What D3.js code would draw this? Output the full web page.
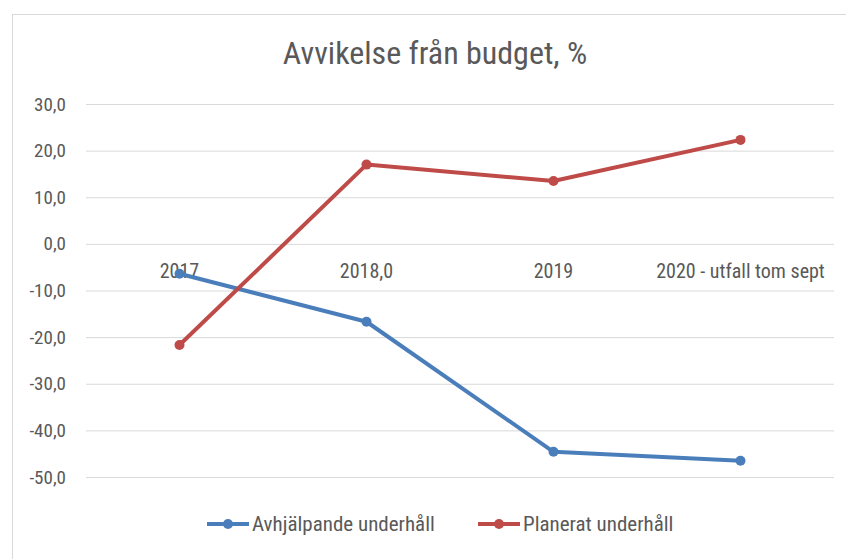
<!DOCTYPE html>
<html><head><meta charset="utf-8">
<script src="https://cdn.jsdelivr.net/npm/d3@7"></script>
<style>body{margin:0;background:#fff}svg{display:block}text{font-family:"Liberation Sans Narrow","Roboto Condensed","Open Sans",sans-serif;fill:#595959}</style>
</head><body><svg id="c" width="846" height="559"></svg>
<script>
const categories = ["2017", "2018,0", "2019", "2020 - utfall tom sept"];
const seriesNames = ["Avhjälpande underhåll", "Planerat underhåll"];
const avhjalpande = [-6.4, -16.7, -44.6, -46.5];
const planerat = [-21.7, 17.0, 13.5, 22.3];
const yTicks = [30, 20, 10, 0, -10, -20, -30, -40, -50];
const colors = ["#4a7ebb", "#be4b48"];

const svg = d3.select("#c");
svg.append("rect").attr("x", 12.5).attr("y", 14.5).attr("width", 846).attr("height", 560)
  .attr("fill", "#fff").attr("stroke", "#d9d9d9");

const x = d3.scaleBand().domain(categories).range([86, 834]);
const y = d3.scaleLinear().domain([-50, 30]).range([477, 104]);

svg.append("text").attr("x", 435).attr("y", 64).attr("text-anchor", "middle")
  .style("font-size", "32px").text("Avvikelse från budget, %");

const fmt = v => d3.format(".1f")(v).replace(".", ",").replace("−", "-");
const ya = svg.append("g").attr("transform", "translate(86,0)")
  .call(d3.axisLeft(y).tickValues(yTicks).tickSize(-748).tickFormat(fmt).tickPadding(20));
ya.select(".domain").remove();
ya.selectAll("line").attr("stroke", "#d9d9d9").attr("stroke-width", 1);
ya.selectAll("text").style("font-size", "19px").attr("fill", "#595959");

const xa = svg.append("g").attr("transform", `translate(0,${y(0)})`)
  .call(d3.axisBottom(x).tickSize(0).tickPadding(20));
xa.select(".domain").remove();
xa.selectAll("text").style("font-size", "20px").attr("fill", "#595959");

const line = d3.line().x((d, i) => x(categories[i]) + x.bandwidth() / 2).y(d => y(d));
[avhjalpande, planerat].forEach((s, k) => {
  svg.append("path").datum(s).attr("d", line).attr("fill", "none")
    .attr("stroke", colors[k]).attr("stroke-width", 4).attr("stroke-linejoin", "round");
  svg.selectAll(null).data(s).enter().append("circle")
    .attr("cx", (d, i) => x(categories[i]) + x.bandwidth() / 2).attr("cy", d => y(d))
    .attr("r", 5).attr("fill", colors[k]);
});

const legendX = [207, 478];
seriesNames.forEach((n, k) => {
  const g = svg.append("g").attr("transform", `translate(${legendX[k]},524)`);
  g.append("line").attr("x1", 0).attr("x2", 42).attr("stroke", colors[k]).attr("stroke-width", 4);
  g.append("circle").attr("cx", 21).attr("r", 5).attr("fill", colors[k]);
  g.append("text").attr("x", 45).attr("y", 7).style("font-size", "21px").text(n);
});
</script></body></html>
